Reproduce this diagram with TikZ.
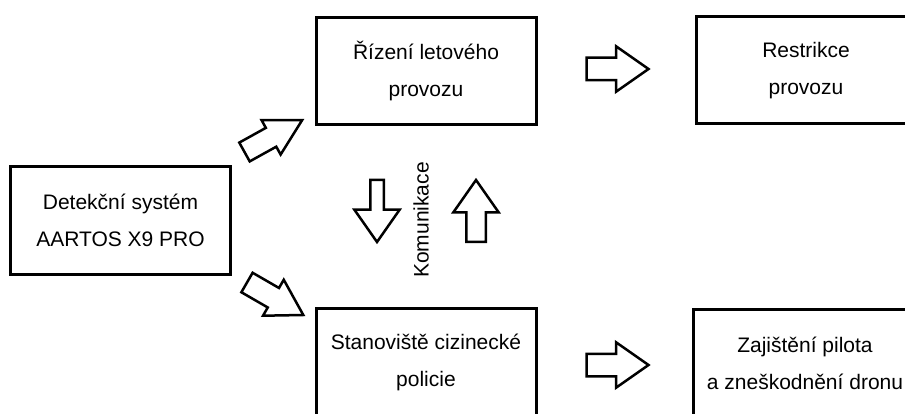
\documentclass[tikz,border=0pt]{standalone}
\usepackage{fontspec}
\setmainfont{Liberation Sans}
\usetikzlibrary{shapes.arrows}

\begin{document}
\begin{tikzpicture}[
        x=1pt, y=-1pt,
        box/.style={draw, line width=3pt, minimum width=220pt, minimum height=107pt, inner sep=0pt, align=center, font=\fontsize{21}{37}\selectfont},
        flow/.style n args={3}{single arrow, draw, line width=2.5pt, outer sep=0pt, inner xsep=0pt, inner ysep=#2, minimum width=0pt, minimum height=#1, single arrow head extend=#3, single arrow tip angle=70, anchor=tail},
        side_text/.style={font=\fontsize{21}{25}\selectfont, inner sep=0pt} % vertical caption
    ]
    \useasboundingbox (0,0) rectangle (905,414);

    % --- Boxes ---
    \node[box] (detekce) at (120.5,220.5) {Detekční systém\\AARTOS X9 PRO};
    \node[box] (rizeni) at (426,71.5) {Řízení letového\\provozu};
    \node[box] (restrikce) at (806,70.5) {Restrikce\\provozu};
    \node[box] (policie) at (426,362) {Stanoviště cizinecké\\policie};
    \node[box, minimum width=224pt] (zajisteni) at (805,363) {Zajištění pilota\\a zneškodnění dronu};

    % --- Hollow arrows ---
    \node[flow={66pt}{9.5pt}{9pt}, single arrow tip angle=58, rotate=29] (to_rizeni) at (244.5,152) {};
    \node[flow={65pt}{10pt}{9.5pt}, single arrow tip angle=62, rotate=-30] (to_policie) at (247,282.5) {};
    \node[flow={62pt}{10pt}{11.5pt}] (to_restrikce) at (586.5,69) {};
    \node[flow={62pt}{10pt}{11.5pt}] (to_zajisteni) at (586.5,365) {};

    % Communication between the two middle boxes
    \node[flow={62pt}{5.5pt}{16pt}, rotate=-90] (dolu) at (377,180) {};
    \node[flow={62pt}{8.5pt}{13pt}, rotate=90] (nahoru) at (476,242) {};
    \node[side_text, rotate=90] (komunikace) at (421,220) {Komunikace};

\end{tikzpicture}
\end{document}
